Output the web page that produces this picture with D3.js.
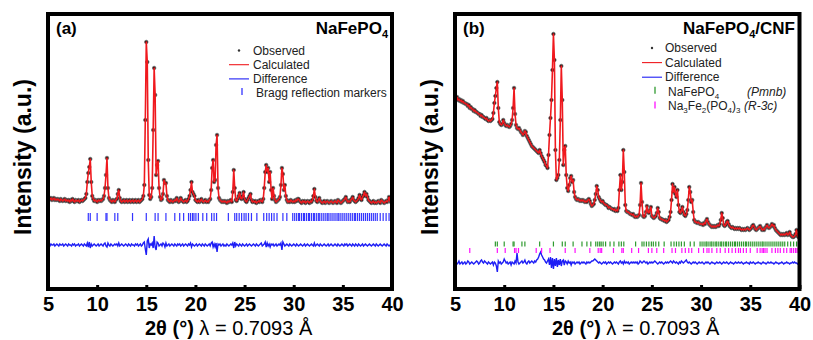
<!DOCTYPE html>
<html>
<head>
<meta charset="utf-8">
<script src="https://cdn.jsdelivr.net/npm/d3@7"></script>
<style>
  body { margin: 0; background: #fff; }
  svg { display: block; font-family: "Liberation Sans", Arial, sans-serif; }
</style>
</head>
<body>
<svg id="chart" width="813" height="340"></svg>
<script>
// 2-theta grid: 5.0 .. 40.0 in 0.1 deg steps
const thetaStart = 5, thetaStep = 0.1;
const xTicks = [5, 10, 15, 20, 25, 30, 35, 40];

// (a) NaFePO4 - observed intensity (a.u.), one row per degree
const obsA = [
  103,102,101,102,100,101,102,100,101,100,
  101,100,99,101,100,99,100,101,99,100,
  99,100,98,100,99,101,99,98,100,99,
  99,100,98,99,100,99,100,101,102,106,
  118,127,133,141,118,104,101,99,100,99,
  98,100,99,100,99,100,101,104,112,125,
  142,112,102,100,99,98,100,99,98,100,
  101,106,110,102,99,98,99,100,98,99,
  100,98,99,100,98,99,100,98,99,100,
  98,99,100,98,99,100,101,104,115,180,
  258,238,140,105,101,103,112,170,232,205,
  125,135,139,112,103,100,101,106,120,117,
  117,104,100,99,98,100,99,98,99,100,
  99,102,100,98,99,102,100,99,98,99,
  100,98,99,101,104,110,118,108,106,104,
  100,99,98,100,98,99,101,99,98,99,
  100,98,99,98,100,101,110,132,140,118,
  120,155,165,112,102,100,99,98,99,98,
  99,98,97,99,98,99,100,98,108,130,
  112,100,99,101,104,107,102,101,104,108,
  101,99,98,100,102,104,106,100,98,99,
  98,99,97,98,99,98,100,99,98,101,
  112,128,135,128,132,118,128,110,101,112,
  104,100,98,99,100,101,103,115,132,126,
  110,115,104,100,98,99,98,100,99,98,
  99,98,100,99,101,101,99,98,97,99,
  98,99,97,98,99,98,97,99,98,100,
  104,111,103,99,98,100,102,99,98,97,
  98,99,97,98,99,98,97,98,99,98,
  97,98,99,98,97,100,99,98,97,98,
  99,100,101,103,100,98,99,98,100,101,
  103,100,99,98,99,100,102,105,101,100,
  103,105,108,104,106,103,100,99,98,97,
  98,99,97,98,97,98,99,98,97,100,
  99,98,97,98,99,98,100,103,99,98,
  98
];

// (a) difference (obs - calc)
const diffA = [
  1,0,-1,1,0,0,1,-1,0,1,
  0,-1,1,0,0,1,-1,0,1,0,
  -1,1,0,0,-1,1,0,1,-1,0,
  0,1,-1,0,1,0,-1,1,0,-1,
  2,-2,3,-3,1,-1,0,1,0,-1,
  0,1,-1,0,1,0,-1,1,2,-1,
  -2,2,0,-1,1,0,-1,0,1,0,
  1,-1,2,-1,0,1,0,-1,0,1,
  0,-1,1,0,-1,1,0,0,-1,1,
  0,1,-1,0,1,-1,0,2,3,-4,
  -10,4,6,-3,1,0,2,-3,9,-2,
  -5,3,2,-1,0,1,-1,2,1,-2,
  2,-1,0,1,-1,0,1,0,-1,1,
  0,-1,1,0,1,-1,0,1,-1,0,
  1,0,-1,1,0,2,-2,1,0,-1,
  0,1,-1,0,1,0,-1,1,0,-1,
  1,0,-1,0,1,-1,2,3,-2,1,
  -2,2,-7,1,0,1,-1,0,1,-1,
  0,-1,1,0,-1,0,1,0,2,-3,
  3,-1,1,0,-1,1,0,-1,1,0,
  -1,0,1,-1,0,1,0,-1,0,1,
  0,-1,1,0,-1,0,1,2,-1,0,
  1,3,-2,2,-1,1,-2,1,0,1,
  -1,0,1,-1,0,1,0,2,-5,3,
  1,-1,0,1,0,-1,1,0,-1,0,
  1,0,-1,1,0,-1,0,1,0,-1,
  0,1,-1,0,1,0,-1,0,1,0,
  -1,2,-1,0,1,0,-1,1,0,-1,
  0,1,0,-1,0,1,-1,0,1,0,
  -1,0,1,0,-1,1,0,-1,0,1,
  0,-1,1,0,1,-1,0,1,0,-1,
  1,0,-1,1,0,-1,1,0,-1,0,
  1,-1,0,1,0,-1,0,1,0,-1,
  0,1,0,-1,1,0,-1,0,1,0,
  -1,0,1,0,-1,1,0,-1,0,1,
  0
];

// (b) NaFePO4/CNF - observed intensity (a.u.)
const obsB = [
  203,202,203,200,201,199,200,198,199,197,
  197,196,196,194,195,192,193,191,191,189,
  190,188,188,187,186,186,184,185,183,183,
  182,181,182,180,179,180,179,180,181,187,
  197,204,212,218,192,178,176,175,176,180,
  177,175,174,175,174,173,174,176,180,192,
  212,186,175,172,171,172,170,168,167,165,
  166,169,168,164,162,160,158,156,154,153,
  152,151,150,149,148,147,150,147,144,142,
  140,138,135,134,132,145,165,182,200,230,
  266,240,150,120,122,125,140,180,234,200,
  135,150,154,125,112,109,115,122,124,118,
  120,108,103,101,100,101,100,99,100,99,
  100,99,98,99,98,100,101,99,96,94,
  95,96,100,106,114,110,103,101,99,98,
  99,97,96,95,95,94,92,93,92,91,
  91,90,91,89,90,89,92,110,125,110,
  118,150,128,95,89,88,88,87,86,86,
  85,86,84,83,84,83,84,85,95,117,
  98,84,83,84,88,94,88,87,90,93,
  84,83,82,83,84,87,92,88,82,81,
  81,80,80,79,80,78,79,80,83,88,
  100,116,108,113,106,103,110,95,88,87,
  90,93,88,85,84,86,90,100,113,108,
  98,100,88,80,78,78,77,78,77,76,
  76,76,75,77,76,79,81,78,76,75,
  74,73,74,73,74,73,74,75,74,76,
  80,87,82,75,74,75,78,79,76,74,
  73,72,73,72,71,72,71,72,71,72,
  71,70,71,70,71,70,71,72,71,70,
  71,72,74,75,73,71,70,71,72,73,
  74,72,70,71,70,72,73,75,73,72,
  73,74,76,74,75,72,70,69,68,67,
  66,65,66,65,66,65,66,67,65,66,
  68,65,64,63,63,64,66,70,64,63,
  63
];

// (b) difference (obs - calc)
const diffB = [
  0,1,-1,0,2,-1,0,1,-1,0,
  1,-1,0,2,1,-1,0,1,0,-1,
  0,1,2,1,-1,0,2,3,1,0,
  2,1,0,-1,1,0,-1,0,1,-2,
  1,0,-3,-9,2,0,1,-1,0,1,
  4,2,0,1,-1,0,1,-2,1,0,
  -1,2,0,10,1,-1,0,1,2,0,
  1,3,0,-1,1,2,0,1,2,1,
  0,2,1,3,4,6,9,11,8,6,
  4,3,1,0,2,4,-2,6,-5,5,
  -6,4,-3,5,-4,3,-2,4,-3,2,
  3,-2,2,1,-1,2,0,1,-2,1,
  0,1,-1,0,1,0,1,-1,0,1,
  0,1,0,-1,1,0,1,0,1,2,
  2,3,4,3,2,1,0,1,0,-1,
  0,1,0,1,-1,0,1,0,1,0,
  -1,0,1,0,1,0,-1,1,2,0,
  1,-1,2,0,1,0,1,-1,0,1,
  0,1,0,1,0,1,-1,0,2,1,
  0,1,2,1,0,1,-1,0,1,0,
  1,0,1,2,1,0,-1,0,1,0,
  1,0,-1,0,1,0,1,0,1,2,
  1,0,2,1,0,1,0,-1,1,0,
  2,1,0,1,2,3,1,0,1,0,
  -1,0,1,0,1,0,-1,0,1,0,
  0,1,0,-1,0,1,0,1,0,-1,
  0,1,0,0,-1,0,1,0,0,1,
  0,-1,0,1,0,0,1,0,-1,0,
  1,0,0,-1,0,1,0,0,1,0,
  0,1,0,-1,0,0,1,0,0,-1,
  1,0,0,1,0,-1,0,0,1,0,
  0,-1,0,1,0,0,-1,0,1,0,
  0,1,0,0,-1,0,1,0,0,-1,
  0,0,1,0,-1,0,0,1,0,0,
  -1,0,0,1,0,1,0,0,-1,0,
  0
];

// Bragg reflection positions (2-theta, deg)
const naFePO4Refl = [9.1, 9.3, 10.0, 10.9, 11.0, 11.8, 12.1, 13.6, 15.0, 15.9, 16.2, 17.0,
  17.9, 18.4, 18.8, 19.3, 19.5, 19.7, 19.85, 20.05, 20.3, 20.75, 21.15, 21.65, 21.9, 22.15,
  23.35, 24.0, 24.2, 24.45, 24.7, 24.95, 25.15, 25.4, 25.7, 26.25, 26.95, 27.25, 27.5, 27.75,
  28.0, 28.3, 28.9, 29.3, 29.9, 30.1, 30.3, 30.5, 30.6, 30.8, 31.0, 31.1, 31.3, 31.5, 31.6,
  31.8, 32.0, 32.1, 32.3, 32.5, 32.6, 32.8, 33.0, 33.2, 33.4, 33.5, 33.7, 33.9, 34.1, 34.3,
  34.5, 34.6, 34.8, 35.0, 35.2, 35.4, 35.6, 35.8, 36.0, 36.2, 36.3, 36.5, 36.7, 36.9, 37.1,
  37.3, 37.5, 37.7, 37.9, 38.1, 38.3, 38.5, 38.8, 39.1, 39.4, 39.7, 39.9];
const na3Fe2Refl = [6.5, 9.3, 10.1, 11.05, 11.2, 11.45, 13.25, 13.8, 14.65, 16.2, 17.2, 18.7,
  19.55, 19.75, 19.9, 21.1, 21.95, 22.1, 22.95, 23.65, 24.65, 25.0, 25.5, 26.2, 27.05, 27.4,
  28.05, 28.4, 28.75, 29.05, 29.75, 30.25, 30.6, 30.8, 31.1, 31.6, 31.95, 32.45, 32.8, 33.15,
  33.5, 33.8, 34.0, 34.3, 34.6, 35.0, 35.7, 36.0, 36.2, 36.35, 36.5, 36.7, 37.2, 37.55, 37.8,
  38.05, 38.4, 38.7, 39.05, 39.2, 39.4, 39.6, 39.75];

const RED = "#f0191e", BLUE = "#1e1ef5", GREEN = "#2f9a2f", MAGENTA = "#ff10ff";

const svg = d3.select("#chart");

function drawPanel(p) {
  const x = d3.scaleLinear().domain([5, 40]).range([p.left, p.right]);
  const y = d3.scaleLinear().domain([11, 286]).range([289, 14]);
  const g = svg.append("g");

  g.append("clipPath").attr("id", "clip-" + p.id)
    .append("rect")
    .attr("x", p.left).attr("y", 14)
    .attr("width", p.right - p.left).attr("height", 275);

  const plot = g.append("g").attr("clip-path", "url(#clip-" + p.id + ")");

  const pts = p.obs.map((v, i) => ({ t: thetaStart + i * thetaStep, v: v }));
  const dpts = p.diff.map((v, i) => ({ t: thetaStart + i * thetaStep, v: v }));

  // observed
  plot.append("g").selectAll("circle")
    .data(pts)
    .join("circle")
    .attr("cx", d => x(d.t))
    .attr("cy", d => y(d.v))
    .attr("r", 1.8)
    .attr("fill", "#111")
    .attr("stroke", "#707070")
    .attr("stroke-width", 0.7);

  // calculated
  plot.append("path")
    .datum(pts)
    .attr("fill", "none")
    .attr("stroke", RED)
    .attr("stroke-width", 1.6)
    .attr("stroke-linejoin", "round")
    .attr("d", d3.line().x(d => x(d.t)).y(d => y(d.v)));

  // difference
  plot.append("path")
    .datum(dpts)
    .attr("fill", "none")
    .attr("stroke", BLUE)
    .attr("stroke-width", 1.4)
    .attr("d", d3.line().x(d => x(d.t)).y(d => y(p.diffLevel + d.v)));

  // reflection markers
  p.phases.forEach(ph => {
    plot.append("g").selectAll("line")
      .data(ph.refl)
      .join("line")
      .attr("x1", d => x(d)).attr("x2", d => x(d))
      .attr("y1", y(ph.level) - ph.len / 2)
      .attr("y2", y(ph.level) + ph.len / 2)
      .attr("stroke", ph.color)
      .attr("stroke-width", 1.2);
  });

  // bottom axis
  const axis = g.append("g")
    .attr("transform", "translate(0,289)")
    .call(d3.axisBottom(x).tickValues(xTicks).tickSizeInner(-4).tickSizeOuter(0).tickPadding(8));
  axis.select(".domain").remove();
  axis.selectAll(".tick line").attr("stroke", "#000").attr("stroke-width", 3);
  axis.selectAll(".tick text")
    .attr("font-family", "Liberation Sans, Arial, sans-serif")
    .attr("font-size", 20)
    .attr("font-weight", "bold")
    .attr("fill", "#000");

  // frame
  g.append("rect")
    .attr("x", p.left).attr("y", 14)
    .attr("width", p.right - p.left).attr("height", 275)
    .attr("fill", "none")
    .attr("stroke", "#000")
    .attr("stroke-width", 4);

  // axis titles
  const xl = g.append("text")
    .attr("x", p.left + 97).attr("y", 335)
    .attr("font-size", 20).attr("fill", "#000");
  xl.append("tspan").attr("font-weight", "bold").text("2\u03b8 (\u00b0)");
  xl.append("tspan").text(" \u03bb = 0.7093 \u00c5");

  g.append("text")
    .attr("transform", `translate(${p.left - 17},157) rotate(-90)`)
    .attr("text-anchor", "middle")
    .attr("font-size", 23)
    .attr("font-weight", "bold")
    .text("Intensity (a.u.)");

  // panel label and sample name
  g.append("text")
    .attr("x", p.left + 8).attr("y", 34)
    .attr("font-size", 17).attr("font-weight", "bold")
    .text(p.label);

  const tt = g.append("text")
    .attr("x", p.titleEnd).attr("y", 34)
    .attr("text-anchor", "end")
    .attr("font-size", 17).attr("font-weight", "bold");
  p.title.forEach(part => {
    if (part.sub) tt.append("tspan").attr("font-size", 11).attr("dy", 4).text(part.sub);
    else tt.append("tspan").attr("dy", part.up ? -4 : 0).text(part.txt);
  });

  // legend
  const lg = g.append("g").attr("font-size", 12).attr("fill", "#222");
  p.legend.forEach((it, i) => {
    const ly = p.legY + i * p.legGap;
    if (it.kind === "dot") {
      lg.append("circle").attr("cx", p.legSym).attr("cy", ly - 4).attr("r", 1.2)
        .attr("fill", "#333");
    } else if (it.kind === "line") {
      lg.append("line")
        .attr("x1", p.legSym - 10).attr("x2", p.legSym + 10)
        .attr("y1", ly - 4).attr("y2", ly - 4)
        .attr("stroke", it.color).attr("stroke-width", 1.1);
    } else {
      lg.append("line")
        .attr("x1", p.legSym + 3).attr("x2", p.legSym + 3)
        .attr("y1", ly - 9).attr("y2", ly - 2)
        .attr("stroke", it.color).attr("stroke-width", 1.3);
    }
    const t = lg.append("text").attr("x", p.legText + (it.kind === "tick" ? 3 : 0)).attr("y", ly);
    it.parts.forEach(part => {
      if (part.sub) t.append("tspan").attr("font-size", 8).attr("dy", 3).text(part.sub);
      else t.append("tspan").attr("dy", part.back ? -3 : 0).text(part.txt);
    });
    if (it.group) {
      lg.append("text").attr("x", it.groupX).attr("y", ly)
        .attr("font-style", "italic").text(it.group);
    }
  });
}

drawPanel({
  id: "a", left: 48, right: 392,
  obs: obsA, diff: diffA, diffLevel: 55,
  phases: [{ refl: naFePO4Refl, level: 83, len: 8, color: "#3434ff" }],
  label: "(a)",
  title: [{ txt: "NaFePO" }, { sub: "4" }],
  titleEnd: 388,
  legY: 54.5, legGap: 14.2, legSym: 239, legText: 253,
  legend: [
    { kind: "dot", parts: [{ txt: "Observed" }] },
    { kind: "line", color: RED, parts: [{ txt: "Calculated" }] },
    { kind: "line", color: BLUE, parts: [{ txt: "Difference" }] },
    { kind: "tick", color: "#3434ff", parts: [{ txt: " Bragg reflection markers" }] }
  ]
});

drawPanel({
  id: "b", left: 455, right: 799.5,
  obs: obsB, diff: diffB, diffLevel: 37,
  phases: [
    { refl: naFePO4Refl, level: 56, len: 5, color: GREEN },
    { refl: na3Fe2Refl, level: 49.5, len: 5, color: MAGENTA }
  ],
  label: "(b)",
  title: [{ txt: "NaFePO" }, { sub: "4" }, { txt: "/CNF", up: true }],
  titleEnd: 795,
  legY: 52, legGap: 14.6, legSym: 652, legText: 665,
  legend: [
    { kind: "dot", parts: [{ txt: "Observed" }] },
    { kind: "line", color: RED, parts: [{ txt: "Calculated" }] },
    { kind: "line", color: BLUE, parts: [{ txt: "Difference" }] },
    { kind: "tick", color: GREEN, parts: [{ txt: "NaFePO" }, { sub: "4" }], group: "(Pmnb)", groupX: 747 },
    { kind: "tick", color: MAGENTA, parts: [{ txt: "Na" }, { sub: "3" }, { txt: "Fe", back: true }, { sub: "2" }, { txt: "(PO", back: true }, { sub: "4" }, { txt: ")", back: true }, { sub: "3" }], group: "(R-3c)", groupX: 744 }
  ]
});
</script>
</body>
</html>
